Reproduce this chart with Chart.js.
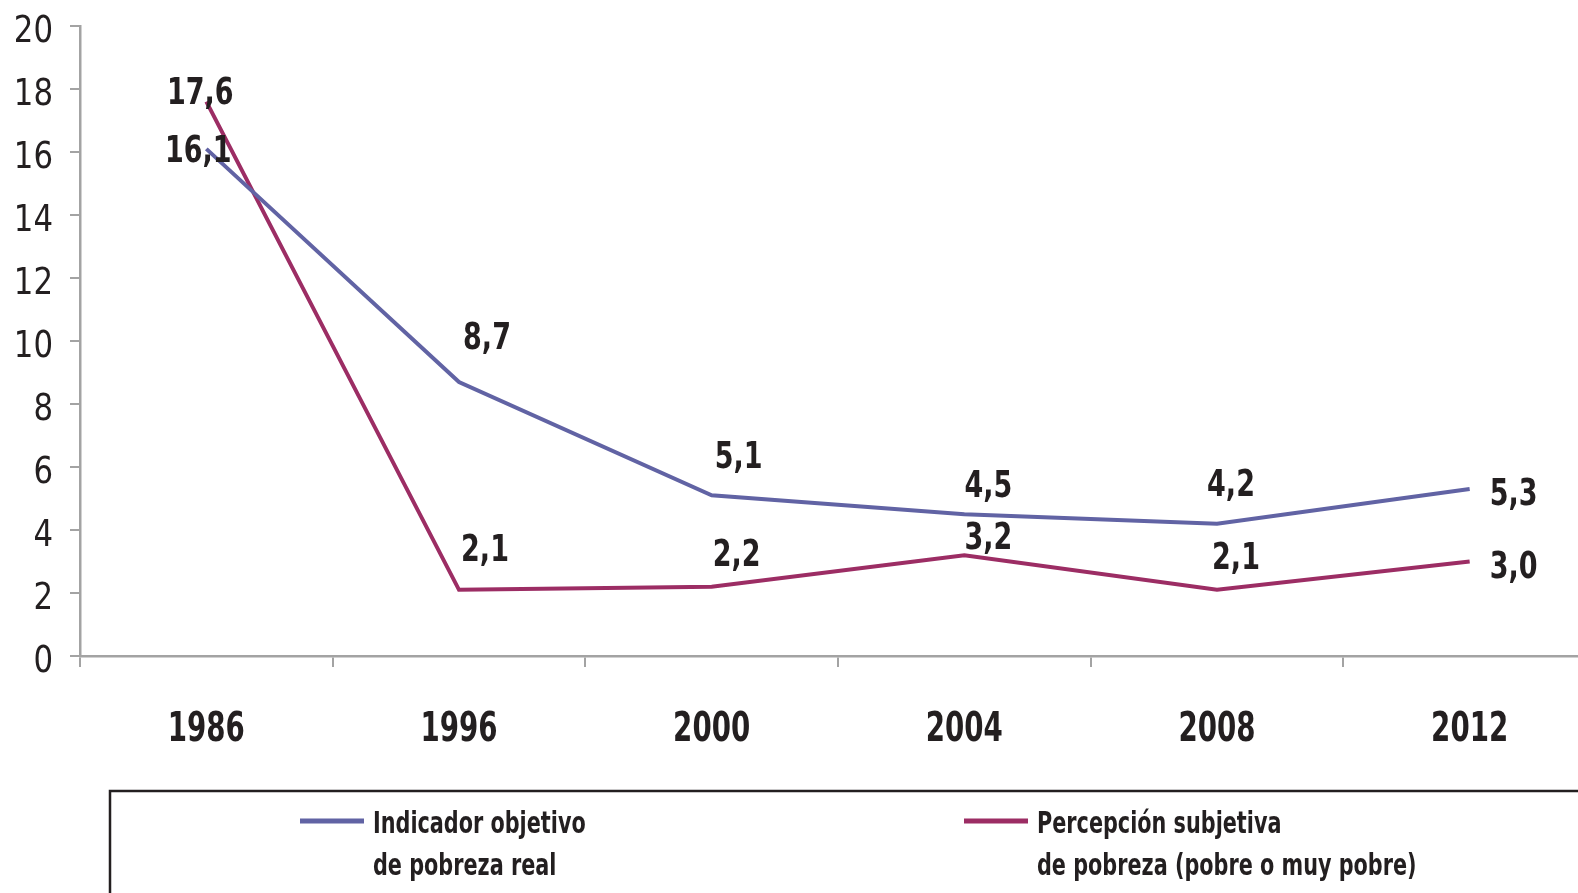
<!DOCTYPE html>
<html>
<head>
<meta charset="utf-8">
<script src="https://cdn.jsdelivr.net/npm/chart.js@4/dist/chart.umd.min.js"></script>
<style>
  html, body { margin: 0; padding: 0; background: #fff; overflow: hidden; }
  #wrap { width: 1600px; height: 893px; }
</style>
</head>
<body>
<div id="wrap"><canvas id="chart" width="1600" height="893"></canvas></div>
<script>
const years = ["1986", "1996", "2000", "2004", "2008", "2012"];
const indicadorObjetivo = [16.1, 8.7, 5.1, 4.5, 4.2, 5.3];
const percepcionSubjetiva = [17.6, 2.1, 2.2, 3.2, 2.1, 3.0];
const yTicks = [0, 2, 4, 6, 8, 10, 12, 14, 16, 18, 20];

// label offsets from the point, in pixels (style only)
const blueOffsets = [[-8, 3], [28, -43], [27, -37], [24, -27], [14, -38], [44, 6]];
const redOffsets = [[-6, -7], [26, -39], [25, -31], [24, -16], [19, -31], [44, 7]];

const FONT = "'Liberation Sans Narrow', 'DejaVu Sans Condensed', sans-serif";
const TEXT = "#231f20";
const AXIS = "#a3a3a3";

// the source font is a condensed one, so squeeze text horizontally
function squeezed(ctx, text, x, y, sx, align) {
  const w = ctx.measureText(text).width * sx;
  let left = x;
  if (align === "center") left = x - w / 2;
  if (align === "right") left = x - w;
  ctx.save();
  ctx.translate(left, y);
  ctx.scale(sx, 1);
  ctx.textAlign = "left";
  ctx.fillText(text, 0, 0);
  ctx.restore();
}

const tickText = {
  id: "tickText",
  afterDraw(chart) {
    const ctx = chart.ctx;
    const xs = chart.scales.x, ys = chart.scales.y;
    ctx.save();
    ctx.fillStyle = TEXT;
    ctx.textBaseline = "middle";
    ctx.font = "38px " + FONT;
    ys.ticks.forEach((t) => {
      squeezed(ctx, String(t.value), 53, ys.getPixelForValue(t.value) + 6, 0.9, "right");
    });
    ctx.font = "bold 40px " + FONT;
    xs.ticks.forEach((t, i) => {
      squeezed(ctx, chart.data.labels[i], xs.getPixelForTick(i), ys.bottom + 75, 0.77, "center");
    });
    ctx.restore();
  }
};

const valueLabels = {
  id: "valueLabels",
  afterDatasetsDraw(chart) {
    const ctx = chart.ctx;
    ctx.save();
    ctx.font = "bold 38px " + FONT;
    ctx.fillStyle = TEXT;
    ctx.textBaseline = "middle";
    chart.data.datasets.forEach((ds, i) => {
      const meta = chart.getDatasetMeta(i);
      meta.data.forEach((pt, j) => {
        const off = ds.labelOffsets[j];
        squeezed(ctx, ds.data[j].toFixed(1).replace(".", ","), pt.x + off[0], pt.y + off[1], 0.79, "center");
      });
    });
    ctx.restore();
  }
};

const boxLegend = {
  id: "boxLegend",
  afterDraw(chart) {
    const ctx = chart.ctx;
    ctx.save();
    ctx.strokeStyle = TEXT;
    ctx.lineWidth = 2.5;
    ctx.strokeRect(110, 791, 1600, 200);
    const xs = [300, 964];
    ctx.font = "bold 31px " + FONT;
    ctx.fillStyle = TEXT;
    ctx.textBaseline = "middle";
    chart.data.datasets.forEach((ds, i) => {
      ctx.strokeStyle = ds.borderColor;
      ctx.lineWidth = 5;
      ctx.beginPath();
      ctx.moveTo(xs[i], 821);
      ctx.lineTo(xs[i] + 64, 821);
      ctx.stroke();
      ds.label.split("\n").forEach((line, k) => {
        squeezed(ctx, line, xs[i] + 73, 825 + k * 42, 0.745, "left");
      });
    });
    ctx.restore();
  }
};

new Chart(document.getElementById("chart"), {
  type: "line",
  data: {
    labels: years,
    datasets: [
      {
        label: "Indicador objetivo\nde pobreza real",
        data: indicadorObjetivo,
        borderColor: "#6163a4",
        borderWidth: 4,
        pointRadius: 0,
        tension: 0,
        labelOffsets: blueOffsets
      },
      {
        label: "Percepción subjetiva\nde pobreza (pobre o muy pobre)",
        data: percepcionSubjetiva,
        borderColor: "#9c2d64",
        borderWidth: 4,
        pointRadius: 0,
        tension: 0,
        labelOffsets: redOffsets
      }
    ]
  },
  options: {
    responsive: false,
    animation: false,
    layout: { padding: { top: 26, right: 4, left: 0, bottom: 0 } },
    plugins: { legend: { display: false }, tooltip: { enabled: false } },
    scales: {
      x: {
        offset: true,
        afterFit: (s) => { s.height = 237; },
        grid: { offset: true, drawOnChartArea: false, color: AXIS, lineWidth: 2, tickLength: 11 },
        border: { color: AXIS, width: 2.5 },
        ticks: { display: false }
      },
      y: {
        min: 0,
        max: 20,
        afterFit: (s) => { s.width = 80; },
        afterBuildTicks: (s) => { s.ticks = yTicks.map((v) => ({ value: v })); },
        grid: { drawOnChartArea: false, color: AXIS, lineWidth: 2, tickLength: 10 },
        border: { color: AXIS, width: 2.5 },
        ticks: { display: false }
      }
    }
  },
  plugins: [valueLabels, tickText, boxLegend]
});
</script>
</body>
</html>
